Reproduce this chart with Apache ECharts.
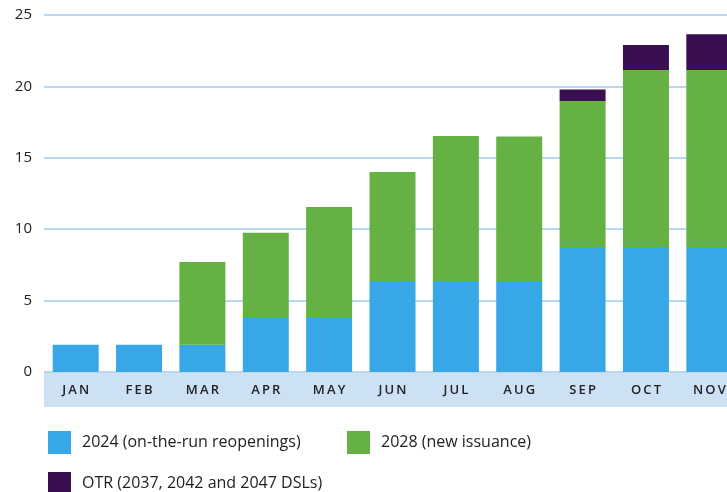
<!DOCTYPE html>
<html>
<head>
<meta charset="utf-8">
<script src="https://cdn.jsdelivr.net/npm/echarts@6/dist/echarts.min.js"></script>
<style>
  html, body { margin: 0; padding: 0; background: #fff; overflow: hidden; }
  /* the original chart is cropped on the right, so the canvas is wider than the window */
  #chart { width: 742px; height: 492px; }
</style>
</head>
<body>
<div id="chart"></div>
<script>
// months (chart is cropped after NOV)
const months = ['JAN', 'FEB', 'MAR', 'APR', 'MAY', 'JUN', 'JUL', 'AUG', 'SEP', 'OCT', 'NOV']
// stacked amounts
const bonds2024 = [1.9, 1.9, 1.9, 3.85, 3.85, 6.37, 6.37, 6.37, 8.75, 8.75, 8.75]
const bonds2028 = [0, 0, 5.8, 5.9, 7.7, 7.63, 10.16, 10.13, 10.23, 12.4, 12.4]
const bondsOtr = [0, 0, 0, 0, 0, 0, 0, 0, 0.8, 1.75, 2.5]
const yTicks = [0, 5, 10, 15, 20, 25]

const names = ['2024 (on-the-run reopenings)', '2028 (new issuance)', 'OTR (2037, 2042 and 2047 DSLs)']
const colors = ['#37a7e7', '#65b143', '#3a0f52']
const font = '"Open Sans", "Noto Sans", sans-serif'

const chart = echarts.init(document.getElementById('chart'))

//图例样式
const legendBase = {
  orient: 'horizontal',
  padding: 0,
  itemWidth: 23,
  itemHeight: 23,
  icon: 'rect',
  textStyle: { fontSize: 16, color: '#222', fontFamily: font, padding: [0, 0, 0, 6] }
}

const option = {
  animation: false,
  grid: [
    { left: 44, top: 15, width: 697, height: 357 },
    // light blue band behind month labels
    { left: 44, top: 372, width: 697, height: 35, show: true, backgroundColor: '#cde1f5', borderWidth: 0 }
  ],
  legend: [
    Object.assign({ data: [names[0]], left: 48, top: 431 }, legendBase),
    Object.assign({ data: [names[1]], left: 347, top: 431 }, legendBase),
    Object.assign({ data: [names[2]], left: 48, top: 472 }, legendBase)
  ],
  xAxis: [
    {
      type: 'category',
      gridIndex: 0,
      data: months,
      axisLine: { show: false },
      axisTick: { show: false },
      axisLabel: {
        margin: 12,
        fontSize: 13,
        color: '#222',
        fontFamily: font,
        fontWeight: 600,
        // spread the letters a little, like the original
        formatter: (v) => v.split('').join('\u2009')
      }
    },
    { type: 'category', gridIndex: 1, data: months, show: false }
  ],
  yAxis: [
    {
      type: 'value',
      gridIndex: 0,
      min: yTicks[0],
      max: yTicks[yTicks.length - 1],
      interval: 5,
      axisLine: { show: false },
      axisTick: { show: false },
      axisLabel: { margin: 12, fontSize: 15, color: '#222', fontFamily: font },
      splitLine: { lineStyle: { color: '#b9d7f1', width: 2 } }
    },
    { type: 'value', gridIndex: 1, show: false }
  ],
  series: [
    { name: names[0], type: 'bar', stack: 'total', data: bonds2024, barWidth: 46, itemStyle: { color: colors[0] } },
    { name: names[1], type: 'bar', stack: 'total', data: bonds2028, barWidth: 46, itemStyle: { color: colors[1] } },
    { name: names[2], type: 'bar', stack: 'total', data: bondsOtr, barWidth: 46, itemStyle: { color: colors[2] } }
  ]
}

chart.setOption(option)
</script>
</body>
</html>
